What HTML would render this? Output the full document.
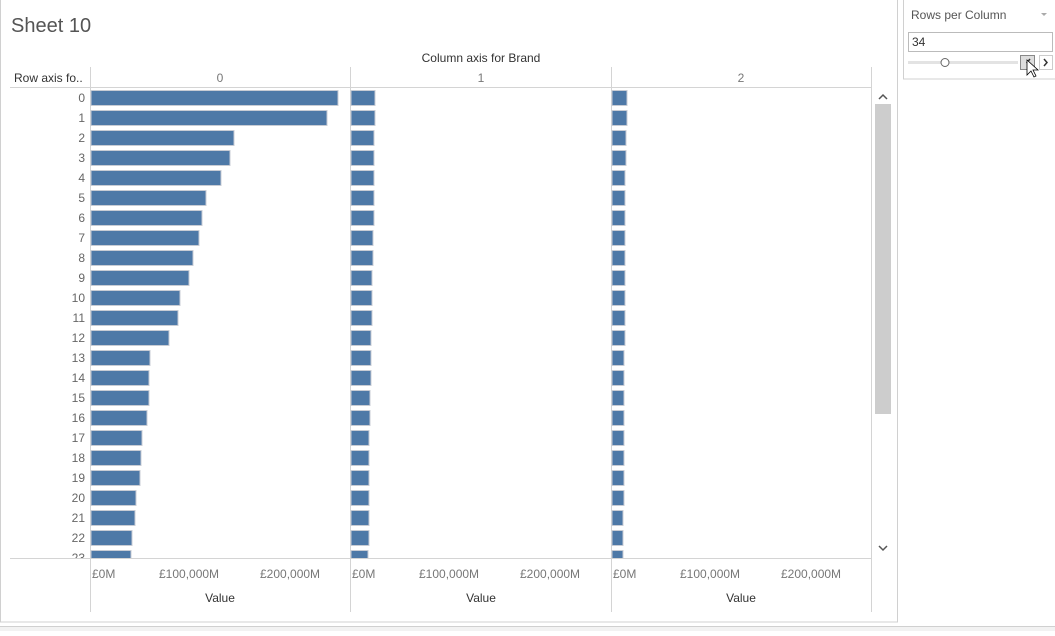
<!DOCTYPE html>
<html><head><meta charset="utf-8"><style>
body{margin:0;width:1055px;height:631px;overflow:hidden;background:#fff;font-family:"Liberation Sans",sans-serif}
</style></head><body>
<svg width="1055" height="631" xmlns="http://www.w3.org/2000/svg" font-family="Liberation Sans, sans-serif">
<rect x="0" y="0" width="1055" height="631" fill="#fff"/>
<rect x="0.5" y="-1" width="897" height="623" fill="#fff" stroke="#d0d0d0"/>
<rect x="0" y="626" width="1055" height="5" fill="#f2f2f2"/>
<line x1="0" y1="626.5" x2="1055" y2="626.5" stroke="#d0d0d0"/>
<text x="11" y="32" font-size="20" fill="#555">Sheet 10</text>
<text x="481" y="62" font-size="12" fill="#333" text-anchor="middle">Column axis for Brand</text>
<text x="14" y="82" font-size="12" fill="#333">Row axis fo..</text>
<g font-size="12" fill="#777" text-anchor="middle"><text x="220" y="82">0</text><text x="481" y="82">1</text><text x="741" y="82">2</text></g>
<g stroke="#d4d4d4"><line x1="10" y1="87.5" x2="871" y2="87.5"/><line x1="10" y1="558.5" x2="871" y2="558.5"/>
<line x1="90.5" y1="67" x2="90.5" y2="612"/><line x1="350.5" y1="67" x2="350.5" y2="612"/><line x1="611.5" y1="67" x2="611.5" y2="612"/><line x1="871.5" y1="67" x2="871.5" y2="612"/></g>
<defs><clipPath id="c"><rect x="0" y="88" width="900" height="470"/></clipPath></defs>
<g clip-path="url(#c)">
<g font-size="12" fill="#666" text-anchor="end">
<text x="85" y="102">0</text><text x="85" y="122">1</text><text x="85" y="142">2</text><text x="85" y="162">3</text><text x="85" y="182">4</text><text x="85" y="202">5</text><text x="85" y="222">6</text><text x="85" y="242">7</text><text x="85" y="262">8</text><text x="85" y="282">9</text><text x="85" y="302">10</text><text x="85" y="322">11</text><text x="85" y="342">12</text><text x="85" y="362">13</text><text x="85" y="382">14</text><text x="85" y="402">15</text><text x="85" y="422">16</text><text x="85" y="442">17</text><text x="85" y="462">18</text><text x="85" y="482">19</text><text x="85" y="502">20</text><text x="85" y="522">21</text><text x="85" y="542">22</text><text x="85" y="562">23</text></g>
<g fill="#4e79a7" stroke="#c8ccd4" stroke-width="1">
<rect x="91" y="90.5" width="247" height="15"/><rect x="91" y="110.5" width="236" height="15"/><rect x="91" y="130.5" width="143" height="15"/><rect x="91" y="150.5" width="139" height="15"/><rect x="91" y="170.5" width="130" height="15"/><rect x="91" y="190.5" width="115" height="15"/><rect x="91" y="210.5" width="111" height="15"/><rect x="91" y="230.5" width="108" height="15"/><rect x="91" y="250.5" width="102" height="15"/><rect x="91" y="270.5" width="98" height="15"/><rect x="91" y="290.5" width="89" height="15"/><rect x="91" y="310.5" width="87" height="15"/><rect x="91" y="330.5" width="78" height="15"/><rect x="91" y="350.5" width="59" height="15"/><rect x="91" y="370.5" width="58" height="15"/><rect x="91" y="390.5" width="58" height="15"/><rect x="91" y="410.5" width="56" height="15"/><rect x="91" y="430.5" width="51" height="15"/><rect x="91" y="450.5" width="50" height="15"/><rect x="91" y="470.5" width="49" height="15"/><rect x="91" y="490.5" width="45" height="15"/><rect x="91" y="510.5" width="44" height="15"/><rect x="91" y="530.5" width="41" height="15"/><rect x="91" y="550.5" width="40" height="15"/>
<rect x="351" y="90.5" width="24" height="15"/><rect x="351" y="110.5" width="24" height="15"/><rect x="351" y="130.5" width="23" height="15"/><rect x="351" y="150.5" width="23" height="15"/><rect x="351" y="170.5" width="23" height="15"/><rect x="351" y="190.5" width="23" height="15"/><rect x="351" y="210.5" width="23" height="15"/><rect x="351" y="230.5" width="22" height="15"/><rect x="351" y="250.5" width="22" height="15"/><rect x="351" y="270.5" width="21" height="15"/><rect x="351" y="290.5" width="21" height="15"/><rect x="351" y="310.5" width="21" height="15"/><rect x="351" y="330.5" width="20" height="15"/><rect x="351" y="350.5" width="20" height="15"/><rect x="351" y="370.5" width="20" height="15"/><rect x="351" y="390.5" width="19" height="15"/><rect x="351" y="410.5" width="19" height="15"/><rect x="351" y="430.5" width="18" height="15"/><rect x="351" y="450.5" width="18" height="15"/><rect x="351" y="470.5" width="18" height="15"/><rect x="351" y="490.5" width="18" height="15"/><rect x="351" y="510.5" width="18" height="15"/><rect x="351" y="530.5" width="18" height="15"/><rect x="351" y="550.5" width="17" height="15"/>
<rect x="612" y="90.5" width="15" height="15"/><rect x="612" y="110.5" width="15" height="15"/><rect x="612" y="130.5" width="14" height="15"/><rect x="612" y="150.5" width="14" height="15"/><rect x="612" y="170.5" width="13" height="15"/><rect x="612" y="190.5" width="13" height="15"/><rect x="612" y="210.5" width="13" height="15"/><rect x="612" y="230.5" width="13" height="15"/><rect x="612" y="250.5" width="13" height="15"/><rect x="612" y="270.5" width="13" height="15"/><rect x="612" y="290.5" width="13" height="15"/><rect x="612" y="310.5" width="13" height="15"/><rect x="612" y="330.5" width="13" height="15"/><rect x="612" y="350.5" width="12" height="15"/><rect x="612" y="370.5" width="12" height="15"/><rect x="612" y="390.5" width="12" height="15"/><rect x="612" y="410.5" width="12" height="15"/><rect x="612" y="430.5" width="12" height="15"/><rect x="612" y="450.5" width="12" height="15"/><rect x="612" y="470.5" width="12" height="15"/><rect x="612" y="490.5" width="12" height="15"/><rect x="612" y="510.5" width="11" height="15"/><rect x="612" y="530.5" width="11" height="15"/><rect x="612" y="550.5" width="11" height="15"/>
</g></g>
<g font-size="12" fill="#777">
<text x="92" y="578">£0M</text><text x="159" y="578">£100,000M</text><text x="260" y="578">£200,000M</text>
<text x="352" y="578">£0M</text><text x="419" y="578">£100,000M</text><text x="520" y="578">£200,000M</text>
<text x="613" y="578">£0M</text><text x="680" y="578">£100,000M</text><text x="781" y="578">£200,000M</text></g>
<g font-size="12" fill="#333" text-anchor="middle"><text x="220" y="602">Value</text><text x="481" y="602">Value</text><text x="741" y="602">Value</text></g>
<rect x="875" y="104" width="16" height="310" fill="#cdcdcd"/>
<path d="M879 99l4-4 4 4" stroke="#555" stroke-width="1.5" fill="none"/>
<path d="M879 546l4 4 4-4" stroke="#555" stroke-width="1.5" fill="none"/>
<rect x="903.5" y="-1" width="152" height="80" fill="#fff" stroke="#d0d0d0"/>
<text x="911" y="19" font-size="12" fill="#555">Rows per Column</text>
<path d="M1041 13l3 3 3-3z" fill="#aaa"/>
<rect x="908.5" y="32.5" width="144" height="19" fill="#fff" stroke="#bbb"/>
<text x="912" y="46" font-size="12" fill="#333">34</text>
<rect x="908" y="61" width="110" height="3" fill="#e3e3e3"/>
<circle cx="945" cy="62.5" r="4" fill="#fff" stroke="#666"/>
<rect x="1020.5" y="55.5" width="14" height="14" fill="#ddd" stroke="#888"/>
<rect x="1039.5" y="55.5" width="13" height="14" fill="#fff" stroke="#ccc"/>
<path d="M1030 59l-3 3.5 3 3.5" stroke="#333" stroke-width="1.5" fill="none"/>
<path d="M1044 59l3 3.5-3 3.5" stroke="#333" stroke-width="1.5" fill="none"/>
<path d="M1027 60v15l4-4 3 6 2-1-3-6h5z" fill="#fff" stroke="#000" stroke-width="0.8"/>
</svg>
</body></html>
